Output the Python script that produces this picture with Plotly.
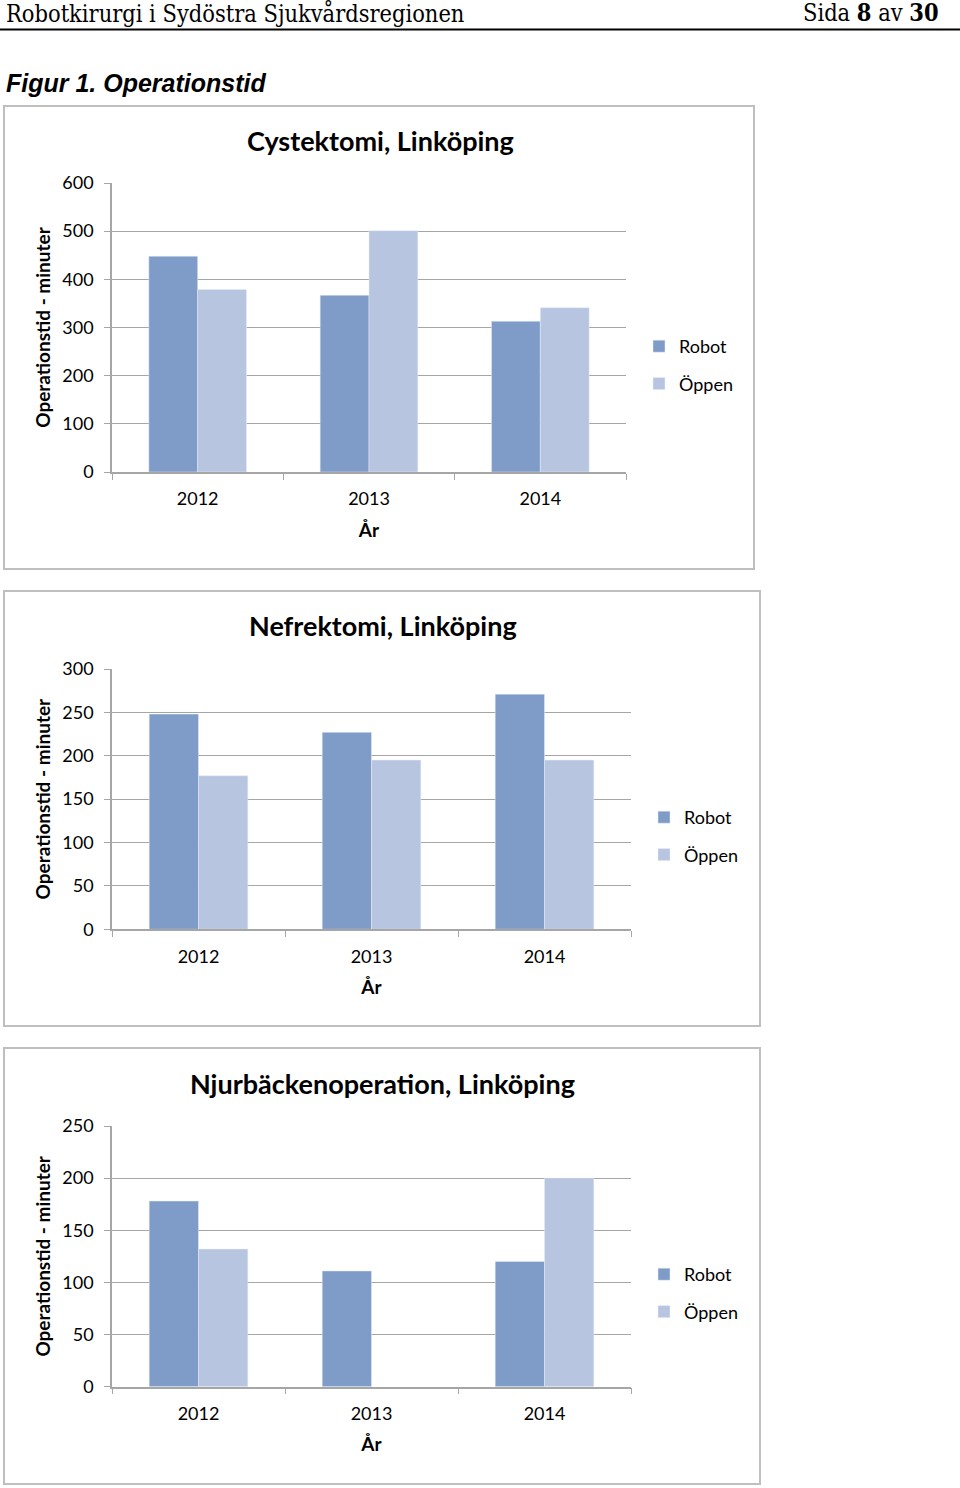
import plotly.graph_objects as go

W, H = 960, 1488

years = ["2012", "2013", "2014"]
series_names = ["Robot", "Öppen"]

cyst_robot = [448, 367, 313]
cyst_oppen = [379, 501, 341]

nefr_robot = [248, 227, 271]
nefr_oppen = [177, 195, 195]

njur_robot = [178, 111, 120]
njur_oppen = [132, None, 200]

titles = ["Cystektomi, Linköping", "Nefrektomi, Linköping", "Njurbäckenoperation, Linköping"]
y_ranges = [(0, 600, 100), (0, 300, 50), (0, 250, 50)]
y_title = "Operationstid - minuter"
x_title = "År"

header_left = "Robotkirurgi i Sydöstra Sjukvårdsregionen"
header_right = "Sida <b>8</b> av <b>30</b>"
fig_caption = "<b><i>Figur 1. Operationstid</i></b>"

robot_color = "#7F9BC7"
oppen_color = "#B7C5E0"
grid_color = "#A6A6A6"
FONT = "Lato"
HEAD_FONT = "DejaVu Serif Condensed"

def px_x(p):
    return p / W

def px_y(p):
    return 1 - p / H

# plot areas in pixels: (x0, x1, ytop, ybottom)
areas = [(112, 626, 183, 472), (112, 631, 669, 929.3), (112, 631, 1126, 1386.7)]
boxes = [(4, 754, 106, 569), (4, 760, 591, 1026), (4, 760, 1048, 1484)]
legend_pos = [(676, 365), (681, 836), (681, 1293)]

data_sets = [(cyst_robot, cyst_oppen), (nefr_robot, nefr_oppen), (njur_robot, njur_oppen)]

fig = go.Figure()
layout = dict(
    width=W, height=H,
    margin=dict(l=0, r=0, t=0, b=0, pad=0),
    paper_bgcolor="white", plot_bgcolor="white",
    barmode="group", bargap=0.43, bargroupgap=0,
    font=dict(family=FONT, size=18, color="#000000"),
    showlegend=True,
)
shapes = []
annotations = []

for i, ((robot, oppen), area, box, (lx, ly), title, (y0, y1, dt)) in enumerate(
        zip(data_sets, areas, boxes, legend_pos, titles, y_ranges)):
    n = "" if i == 0 else str(i + 1)
    xa, ya = "x" + n, "y" + n
    lg = "legend" + n
    fig.add_trace(go.Bar(x=years, y=robot, name=series_names[0], marker_color=robot_color,
                         xaxis=xa, yaxis=ya, legend=lg, legendgroup="r" + n))
    fig.add_trace(go.Bar(x=years, y=oppen, name=series_names[1], marker_color=oppen_color,
                         xaxis=xa, yaxis=ya, legend=lg, legendgroup="o" + n))
    ax0, ax1, atop, abot = area
    layout["xaxis" + n] = dict(
        domain=[px_x(ax0), px_x(ax1)], anchor=ya, type="category", automargin=False,
        showline=True, linecolor=grid_color, linewidth=1.5,
        ticks="outside", tickson="boundaries", ticklen=6, tickcolor=grid_color,
        showgrid=False, tickfont=dict(size=18), ticklabelstandoff=10,
        title=dict(text="<b>" + x_title + "</b>", font=dict(size=19), standoff=15),
    )
    layout["yaxis" + n] = dict(
        domain=[px_y(abot), px_y(atop)], anchor=xa, range=[y0, y1], dtick=dt, automargin=False,
        showline=True, linecolor=grid_color, linewidth=1.5,
        ticks="outside", ticklen=6, tickcolor=grid_color,
        showgrid=True, gridcolor=grid_color, gridwidth=1,
        zeroline=False, tickfont=dict(size=18), ticklabelstandoff=7,
        title=dict(text="<b>" + y_title + "</b>", font=dict(size=19), standoff=7),
    )
    layout[lg] = dict(
        x=px_x(lx - 37), y=px_y(ly), xanchor="left", yanchor="middle",
        font=dict(size=18), tracegroupgap=11, bgcolor="rgba(0,0,0,0)",
    )
    bx0, bx1, by0, by1 = box
    shapes.append(dict(type="rect", xref="paper", yref="paper",
                       x0=px_x(bx0), x1=px_x(bx1), y0=px_y(by1), y1=px_y(by0),
                       line=dict(color="#BFBFBF", width=2), fillcolor="rgba(0,0,0,0)", layer="below"))
    annotations.append(dict(text="<b>" + title + "</b>", xref="paper", yref="paper",
                            x=px_x(ax0 + (ax1 - ax0) / 2 + 11), y=px_y(atop - 43),
                            xanchor="center", yanchor="middle", showarrow=False,
                            font=dict(size=27, family=FONT)))

shapes.append(dict(type="line", xref="paper", yref="paper", x0=0, x1=1,
                   y0=px_y(29.5), y1=px_y(29.5), line=dict(color="#000000", width=2)))
annotations.append(dict(text=header_left, xref="paper", yref="paper", x=px_x(4), y=1,
                        xanchor="left", yanchor="top", yshift=3, showarrow=False,
                        font=dict(size=23.4, family=HEAD_FONT)))
annotations.append(dict(text=header_right, xref="paper", yref="paper", x=px_x(941), y=1,
                        xanchor="right", yanchor="top", yshift=3, showarrow=False,
                        font=dict(size=23.4, family=HEAD_FONT)))
annotations.append(dict(text=fig_caption, xref="paper", yref="paper", x=px_x(4), y=px_y(83),
                        xanchor="left", yanchor="middle", showarrow=False,
                        font=dict(size=25, family="Liberation Sans")))

layout["shapes"] = shapes
layout["annotations"] = annotations
fig.update_layout(**layout)
fig.write_html(
    "out.html",
    config={"displayModeBar": False, "responsive": False},
    post_script="document.body.style.margin='0';document.body.style.overflow='hidden';",
)
